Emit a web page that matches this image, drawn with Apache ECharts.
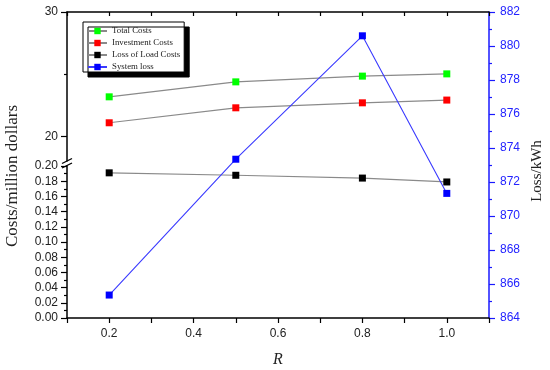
<!DOCTYPE html>
<html>
<head>
<meta charset="utf-8">
<script src="https://cdn.jsdelivr.net/npm/echarts@6/dist/echarts.min.js"></script>
<style>html,body{margin:0;padding:0;background:#fff}#c{width:550px;height:370px}</style>
</head>
<body>
<div id="c"></div>
<script>
var R = [0.2, 0.5, 0.8, 1.0];
var totalCosts = [23.2, 24.4, 24.86, 25.04];
var investmentCosts = [21.12, 22.32, 22.72, 22.94];
var lossOfLoadCosts = [0.191, 0.1878, 0.1841, 0.179];
var systemLoss = [865.35, 873.34, 880.6, 871.33];
var upperTickLabels = [20, 30];
var upperMinorTicks = [25];
var seriesNames = ['Total Costs', 'Investment Costs', 'Loss of Load Costs', 'System loss'];

function pairs(xs, ys) { return xs.map(function (x, i) { return [x, ys[i]]; }); }

var chart = echarts.init(document.getElementById('c'), null, {renderer: 'canvas'});
var L = 67, Rt = 61, TOP = 12, BOT = 52;
var sans = 'Liberation Sans, Arial, sans-serif';
var serif = 'Liberation Serif, Times New Roman, serif';
var axisBlack = {lineStyle: {color: '#000', width: 1.5}};
var xBase = {type: 'value', min: 0.1, max: 1.1, interval: 0.1};

var option = {
  animation: false,
  backgroundColor: '#fff',
  grid: [
    {left: L, right: Rt, top: TOP, bottom: BOT},
    {left: L, right: Rt, top: TOP, height: 149},
    {left: L, right: Rt, top: 166, bottom: BOT}
  ],
  xAxis: [
    Object.assign({}, xBase, {gridIndex: 0, position: 'bottom',
      axisLine: axisBlack, splitLine: {show: false},
      axisTick: {show: true, inside: false, length: 5, lineStyle: {color: '#000', width: 1.2}},
      axisLabel: {margin: 10, fontFamily: sans, fontSize: 12, color: '#222',
        formatter: function (v) { var r = Math.round(v * 10); return r % 2 === 0 ? (r / 10).toFixed(1) : ''; }}}),
    Object.assign({}, xBase, {gridIndex: 0, position: 'top',
      axisLine: axisBlack, splitLine: {show: false},
      axisTick: {show: true, inside: true, length: 4, lineStyle: {color: '#000', width: 1.2}},
      axisLabel: {show: false}}),
    Object.assign({}, xBase, {gridIndex: 1, show: false}),
    Object.assign({}, xBase, {gridIndex: 2, show: false})
  ],
  yAxis: [
    {type: 'value', gridIndex: 0, position: 'right', min: 864, max: 882, interval: 2,
      axisLine: {show: true, lineStyle: {color: '#1a1aff', width: 1.5}},
      axisTick: {show: true, inside: false, length: 6, lineStyle: {color: '#1a1aff', width: 1.2}},
      minorTick: {show: true, splitNumber: 2, length: 3, lineStyle: {color: '#1a1aff', width: 1.2}},
      splitLine: {show: false},
      axisLabel: {margin: 11, fontFamily: sans, fontSize: 12, color: '#2323ff'}},
    {type: 'value', gridIndex: 1, position: 'left', min: 18.056, max: 30,
      axisLine: axisBlack,
      axisTick: {show: true, inside: false, length: 6, customValues: upperTickLabels, lineStyle: {color: '#000', width: 1.2}},
      axisLabel: {margin: 9, fontFamily: sans, fontSize: 12, color: '#222', customValues: upperTickLabels},
      splitLine: {show: false}},
    {type: 'value', gridIndex: 1, position: 'left', min: 18.056, max: 30,
      axisLine: {show: false},
      axisTick: {show: true, inside: false, length: 3, customValues: upperMinorTicks, lineStyle: {color: '#000', width: 1.2}},
      axisLabel: {show: false}, splitLine: {show: false}},
    {type: 'value', gridIndex: 2, position: 'left', min: 0, max: 0.2, interval: 0.02,
      axisLine: axisBlack,
      axisTick: {show: true, inside: false, length: 6, lineStyle: {color: '#000', width: 1.2}},
      minorTick: {show: true, splitNumber: 2, length: 3, lineStyle: {color: '#000', width: 1.2}},
      axisLabel: {margin: 9, fontFamily: sans, fontSize: 12, color: '#222',
        formatter: function (v) { return v.toFixed(2); }},
      splitLine: {show: false}}
  ],
  legend: {
    left: 83, top: 22, orient: 'vertical',
    padding: [4, 4, 0, 4], itemGap: 2, itemWidth: 19, itemHeight: 8,
    backgroundColor: '#fff', borderColor: '#000', borderWidth: 1,
    shadowColor: '#000', shadowBlur: 0, shadowOffsetX: 5, shadowOffsetY: 5,
    textStyle: {fontFamily: serif, fontSize: 8.8, lineHeight: 10, color: '#222'},
    data: seriesNames
  },
  series: [
    {name: seriesNames[0], type: 'line', xAxisIndex: 2, yAxisIndex: 1, data: pairs(R, totalCosts),
      symbol: 'rect', symbolSize: 7, itemStyle: {color: '#00ff00'},
      lineStyle: {color: '#8a8a8a', width: 1.2}},
    {name: seriesNames[1], type: 'line', xAxisIndex: 2, yAxisIndex: 1, data: pairs(R, investmentCosts),
      symbol: 'rect', symbolSize: 7, itemStyle: {color: '#ff0000'},
      lineStyle: {color: '#8a8a8a', width: 1.2}},
    {name: seriesNames[2], type: 'line', xAxisIndex: 3, yAxisIndex: 3, data: pairs(R, lossOfLoadCosts),
      symbol: 'rect', symbolSize: 7, itemStyle: {color: '#000000'},
      lineStyle: {color: '#8a8a8a', width: 1.2}},
    {name: seriesNames[3], type: 'line', xAxisIndex: 0, yAxisIndex: 0, data: pairs(R, systemLoss),
      symbol: 'rect', symbolSize: 7, itemStyle: {color: '#0000ff'},
      lineStyle: {color: '#3a3aff', width: 1.1}, z: 5}
  ],
  graphic: [
    {type: 'line', shape: {x1: 62, y1: 163.5, x2: 72, y2: 158.5}, style: {stroke: '#000', lineWidth: 1.3}, z: 100},
    {type: 'line', shape: {x1: 62, y1: 168, x2: 72, y2: 163}, style: {stroke: '#000', lineWidth: 1.3}, z: 100},
    {type: 'text', x: 13, y: 176, rotation: Math.PI / 2,
      style: {text: 'Costs/million dollars', font: '17px ' + serif, fill: '#222', textAlign: 'center', textVerticalAlign: 'middle'}},
    {type: 'text', x: 537, y: 171, rotation: Math.PI / 2,
      style: {text: 'Loss/kWh', font: '15px ' + serif, fill: '#222', textAlign: 'center', textVerticalAlign: 'middle'}},
    {type: 'text', x: 278, y: 360,
      style: {text: 'R', font: 'italic 16px ' + serif, fill: '#222', textAlign: 'center', textVerticalAlign: 'middle'}}
  ]
};
chart.setOption(option);
</script>
</body>
</html>
